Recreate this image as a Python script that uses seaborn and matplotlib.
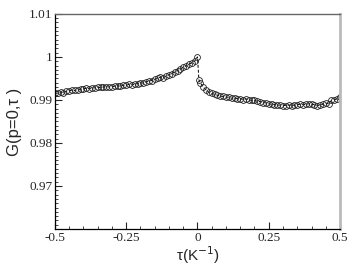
import numpy as np
import pandas as pd
from matplotlib import pyplot as plt
from matplotlib.ticker import MultipleLocator, FixedLocator
import seaborn as sns

# tau values and G(p=0, tau)
tau_left = [-0.50, -0.49, -0.48, -0.47, -0.46, -0.45, -0.44, -0.43, -0.42, -0.41,
            -0.40, -0.39, -0.38, -0.37, -0.36, -0.35, -0.34, -0.33, -0.32, -0.31,
            -0.30, -0.29, -0.28, -0.27, -0.26, -0.25, -0.24, -0.23, -0.22, -0.21,
            -0.20, -0.19, -0.18, -0.17, -0.16, -0.15, -0.14, -0.13, -0.12, -0.11,
            -0.10, -0.09, -0.08, -0.07, -0.06, -0.05, -0.04, -0.03, -0.02, -0.01, 0.00]
g_left = [0.9915, 0.9916, 0.9918, 0.9917, 0.9920, 0.9921, 0.9923, 0.9922, 0.9924, 0.9925,
          0.9926, 0.9927, 0.9926, 0.9928, 0.9928, 0.9929, 0.9929, 0.9930, 0.9931, 0.9930,
          0.9931, 0.9932, 0.9933, 0.9932, 0.9934, 0.9934, 0.9936, 0.9935, 0.9937, 0.9938,
          0.9940, 0.9939, 0.9942, 0.9944, 0.9945, 0.9948, 0.9950, 0.9953, 0.9951, 0.9956,
          0.9958, 0.9961, 0.9965, 0.9968, 0.9972, 0.9976, 0.9979, 0.9983, 0.9986, 0.9990, 1.0000]

tau_right = [0.005, 0.01, 0.02, 0.03, 0.04, 0.05, 0.06, 0.07, 0.08, 0.09,
             0.10, 0.11, 0.12, 0.13, 0.14, 0.15, 0.16, 0.17, 0.18, 0.19,
             0.20, 0.21, 0.22, 0.23, 0.24, 0.25, 0.26, 0.27, 0.28, 0.29,
             0.30, 0.31, 0.32, 0.33, 0.34, 0.35, 0.36, 0.37, 0.38, 0.39,
             0.40, 0.41, 0.42, 0.43, 0.44, 0.45, 0.46, 0.47, 0.48, 0.49, 0.50]
g_right = [0.9947, 0.9940, 0.9930, 0.9923, 0.9918, 0.9915, 0.9913, 0.9911, 0.9909, 0.9908,
           0.9907, 0.9906, 0.9904, 0.9905, 0.9903, 0.9903, 0.9901, 0.9902, 0.9900, 0.9899,
           0.9899, 0.9897, 0.9896, 0.9894, 0.9893, 0.9891, 0.9890, 0.9889, 0.9888, 0.9888,
           0.9887, 0.9887, 0.9888, 0.9887, 0.9888, 0.9889, 0.9890, 0.9889, 0.9890, 0.9891,
           0.9890, 0.9889, 0.9887, 0.9888, 0.9890, 0.9892, 0.9891, 0.9899, 0.9901, 0.9902, 0.9906]

x_ticks = [-0.5, -0.25, 0, 0.25, 0.5]
x_tick_labels = ['-0.5', '-0.25', '0', '0.25', '0.5']
y_ticks = [0.97, 0.98, 0.99, 1.00, 1.01]
y_tick_labels = ['0.97', '0.98', '0.99', '1', '1.01']

df = pd.DataFrame({'tau': tau_left + tau_right, 'G': g_left + g_right})

sns.set_style("ticks")
plt.rcParams['font.family'] = ['Liberation Serif', 'DejaVu Serif']

fig = plt.figure(figsize=(3.52, 2.72), dpi=100)
ax = fig.add_axes([0.156, 0.158, 0.810, 0.791])

sns.lineplot(data=df, x='tau', y='G', ax=ax, sort=False, color='k',
             linestyle=(0, (3, 2)), linewidth=0.7,
             marker='o', markersize=4.2, markerfacecolor='none',
             markeredgecolor='#222222', markeredgewidth=0.6)

ax.set_xlim(-0.5, 0.5)
ax.set_ylim(0.96, 1.01)
ax.xaxis.set_major_locator(FixedLocator(x_ticks))
ax.set_xticklabels(x_tick_labels)
ax.yaxis.set_major_locator(FixedLocator(y_ticks))
ax.set_yticklabels(y_tick_labels)
ax.xaxis.set_minor_locator(MultipleLocator(0.05))
ax.yaxis.set_minor_locator(MultipleLocator(0.001))
ax.tick_params(which='both', direction='in', top=False, right=False,
               labelsize=9.5, pad=2)
ax.tick_params(which='major', length=5, width=0.8)
ax.tick_params(which='minor', length=2.5, width=0.6)

for side in ['left', 'bottom']:
    ax.spines[side].set_color('black')
    ax.spines[side].set_linewidth(0.9)
ax.spines['top'].set_color('#666666')
ax.spines['top'].set_linewidth(1.0)
ax.spines['right'].set_color('#bbbbbb')
ax.spines['right'].set_linewidth(2.0)

ax.set_xlabel('\u03c4(K$^{-1}$)', family=['Liberation Sans', 'DejaVu Sans'],
              fontsize=11, labelpad=0)
ax.set_ylabel('G(p=0,\u03c4 )', family=['Liberation Sans', 'DejaVu Sans'],
              fontsize=12, labelpad=5)

fig.savefig('out.png', dpi=100)
